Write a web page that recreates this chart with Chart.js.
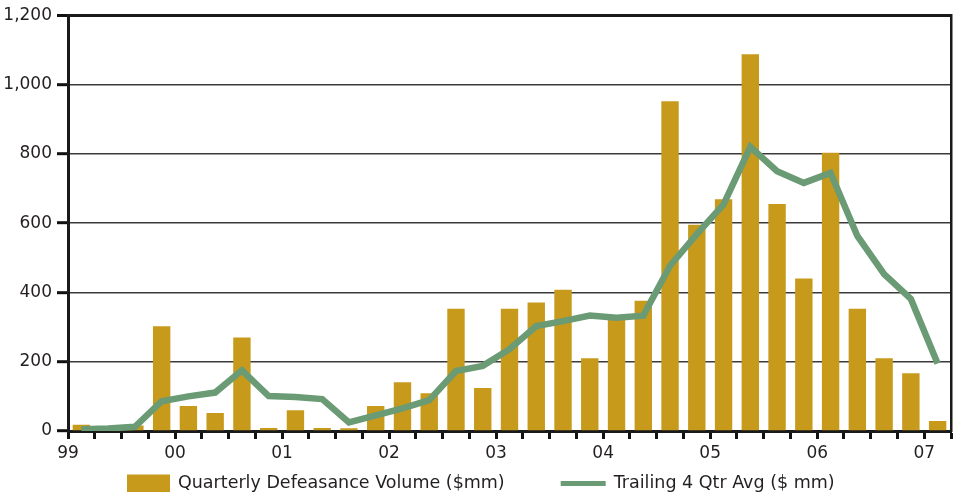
<!DOCTYPE html>
<html>
<head>
<meta charset="utf-8">
<title>Quarterly Defeasance Volume</title>
<script src="https://cdn.jsdelivr.net/npm/chart.js@4/dist/chart.umd.min.js"></script>
<style>
  html, body { margin: 0; padding: 0; background: #ffffff; }
  #wrap { width: 955px; height: 495px; }
</style>
</head>
<body>
<div id="wrap"><canvas id="chart" width="955" height="495"></canvas></div>
<script>
// Quarters from 1999 Q1 through 2007 Q1
const quarters = [
  '1999 Q1', '1999 Q2', '1999 Q3', '1999 Q4',
  '2000 Q1', '2000 Q2', '2000 Q3', '2000 Q4',
  '2001 Q1', '2001 Q2', '2001 Q3', '2001 Q4',
  '2002 Q1', '2002 Q2', '2002 Q3', '2002 Q4',
  '2003 Q1', '2003 Q2', '2003 Q3', '2003 Q4',
  '2004 Q1', '2004 Q2', '2004 Q3', '2004 Q4',
  '2005 Q1', '2005 Q2', '2005 Q3', '2005 Q4',
  '2006 Q1', '2006 Q2', '2006 Q3', '2006 Q4',
  '2007 Q1'
];

// Year labels shown at the start of each year
const yearTicks = ['99', '00', '01', '02', '03', '04', '05', '06', '07'];

// Quarterly defeasance volume, $mm
const quarterlyVolume = [
  18, 0, 16, 302,
  72, 52, 270, 9,
  60, 9, 8, 72,
  141, 109, 353, 124,
  353, 371, 408, 210,
  328, 376, 952, 595,
  669, 1087, 655, 440,
  803, 353, 210, 167,
  29
];

// Trailing four-quarter average, $mm
const trailingAvg = [
  5, 7, 12, 86,
  100, 111, 175, 101,
  98, 92, 25, 45,
  65, 89, 173, 188,
  236, 303, 317, 333,
  327, 333, 477, 568,
  654, 820, 750, 716,
  745, 563, 453, 381,
  195
];

const GOLD = '#c79a1b';
const GREEN = '#6b9b75';
const INK = '#231f20';
const FONT = '"DejaVu Sans", "Liberation Sans", sans-serif';

const PLOT_BOTTOM = 431;
const X_AXIS_HEIGHT = 30;

// Legend row drawn under the axis: gold swatch for bars, thick stroke for the line
const legendRow = {
  id: 'legendRow',
  afterDraw(chart) {
    const ctx = chart.ctx;
    const ds = chart.data.datasets;
    const cy = 483.5;
    ctx.save();
    ctx.font = '17.5px ' + FONT;
    ctx.fillStyle = INK;
    ctx.textBaseline = 'middle';
    ctx.textAlign = 'left';
    let x = 127;
    // bar item
    ctx.fillStyle = ds[0].backgroundColor;
    ctx.fillRect(x, 474.5, 43, 17.5);
    x += 43 + 8;
    ctx.fillStyle = INK;
    ctx.fillText(ds[0].label, x, cy);
    x += ctx.measureText(ds[0].label).width + 56;
    // line item
    ctx.strokeStyle = ds[1].borderColor;
    ctx.lineWidth = 5;
    ctx.beginPath();
    ctx.moveTo(x, cy);
    ctx.lineTo(x + 45, cy);
    ctx.stroke();
    x += 45 + 8;
    ctx.fillText(ds[1].label, x, cy);
    ctx.restore();
  }
};

new Chart(document.getElementById('chart'), {
  type: 'bar',
  data: {
    labels: quarters,
    datasets: [
      {
        type: 'bar',
        label: 'Quarterly Defeasance Volume ($mm)',
        data: quarterlyVolume,
        backgroundColor: GOLD,
        borderWidth: 0,
        barPercentage: 0.65,
        categoryPercentage: 1.0,
        order: 2
      },
      {
        type: 'line',
        label: 'Trailing 4 Qtr Avg ($ mm)',
        data: trailingAvg,
        borderColor: GREEN,
        backgroundColor: GREEN,
        borderWidth: 6.5,
        borderJoinStyle: 'miter',
        pointRadius: 0,
        tension: 0,
        fill: false,
        order: 1
      }
    ]
  },
  options: {
    responsive: false,
    animation: false,
    devicePixelRatio: 1,
    layout: {
      padding: { left: 0, top: 13, right: 4, bottom: 495 - PLOT_BOTTOM - X_AXIS_HEIGHT }
    },
    plugins: {
      legend: { display: false },
      tooltip: { enabled: false }
    },
    scales: {
      x: {
        type: 'category',
        offset: true,
        afterFit(scale) { scale.height = X_AXIS_HEIGHT; },
        grid: {
          offset: true,
          drawOnChartArea: false,
          drawTicks: true,
          tickLength: 8,
          tickWidth: 3,
          tickColor: '#111111'
        },
        border: { display: true, width: 3, color: '#1a1a1a' },
        ticks: {
          autoSkip: false,
          maxRotation: 0,
          minRotation: 0,
          padding: 4,
          labelOffset: -13.38,
          color: INK,
          font: { family: FONT, size: 17 },
          callback(value, index) {
            return index % 4 === 0 ? yearTicks[index / 4] : '';
          }
        }
      },
      y: {
        type: 'linear',
        position: 'left',
        min: 0,
        max: 1200,
        afterFit(scale) { scale.width = 68; },
        grid: {
          color: (c) => (c.tick && c.tick.value === 1200 ? '#1a1a1a' : '#3a3a3a'),
          lineWidth: (c) => (c.tick && c.tick.value === 1200 ? 3 : 1.4),
          drawTicks: true,
          tickLength: 11,
          tickWidth: 3,
          tickColor: '#111111'
        },
        border: { display: true, width: 3, color: '#1a1a1a' },
        ticks: {
          stepSize: 200,
          padding: 5,
          color: INK,
          font: { family: FONT, size: 17 },
          callback(value) { return value.toLocaleString('en-US'); }
        }
      },
      yRight: {
        type: 'linear',
        position: 'right',
        min: 0,
        max: 1200,
        afterFit(scale) { scale.width = 0; },
        grid: { drawOnChartArea: false, drawTicks: false },
        border: { display: true, width: 2.5, color: '#1a1a1a' },
        ticks: { display: false }
      }
    }
  },
  plugins: [legendRow]
});
</script>
</body>
</html>
